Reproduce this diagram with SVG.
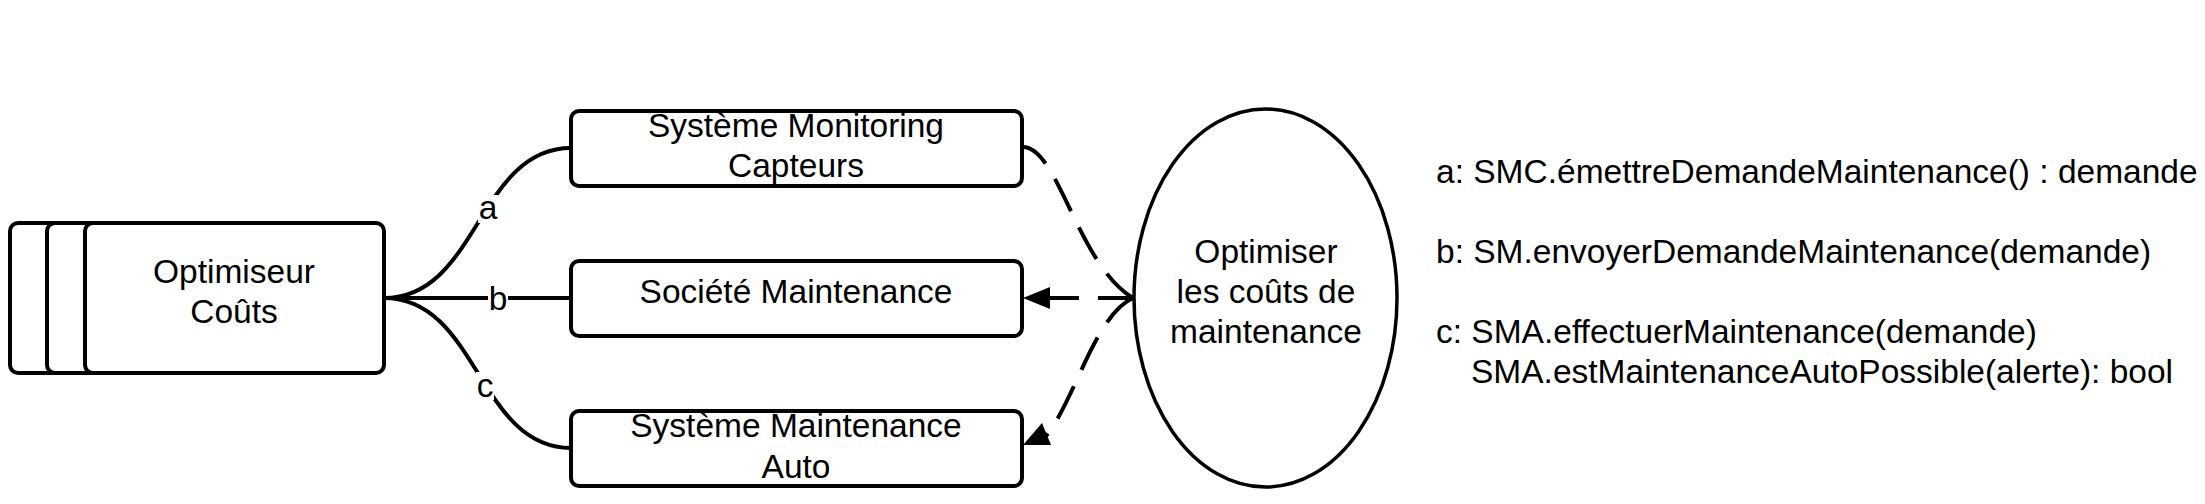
<svg xmlns="http://www.w3.org/2000/svg" width="2205" height="504" viewBox="0 0 2205 504">
<style>
.box{fill:#fff;stroke:#000;stroke-width:4}
.t{font-family:"Liberation Sans",Arial,sans-serif;font-size:33.5px;fill:#000}
.m{text-anchor:middle}
.ln{fill:none;stroke:#000;stroke-width:4}
.dash{fill:none;stroke:#000;stroke-width:4;stroke-dasharray:36 18}
.bg{fill:#fff;stroke:none}
</style>
<rect width="2205" height="504" fill="#fff"/>
<g id="optimiseur">
<rect class="box" x="10" y="223" width="300" height="150" rx="8"/>
<rect class="box" x="47" y="223" width="300" height="150" rx="8"/>
<rect class="box" x="85" y="223" width="299" height="150" rx="8"/>
<text class="t m" x="234" y="283">Optimiseur</text>
<text class="t m" x="234" y="323">Coûts</text>
</g>
<g id="smc">
<rect class="box" x="571" y="111" width="451" height="75" rx="8"/>
<text class="t m" x="796" y="137">Système Monitoring</text>
<text class="t m" x="796" y="177">Capteurs</text>
</g>
<g id="sm">
<rect class="box" x="571" y="261" width="451" height="75" rx="8"/>
<text class="t m" x="796" y="303">Société Maintenance</text>
</g>
<g id="sma">
<rect class="box" x="571" y="411" width="451" height="75" rx="8"/>
<text class="t m" x="796" y="437">Système Maintenance</text>
<text class="t m" x="796" y="478">Auto</text>
</g>
<g id="usecase">
<ellipse cx="1265.5" cy="298" rx="131.5" ry="189" fill="#fff" stroke="#000" stroke-width="3.5"/>
<text class="t m" x="1266" y="263">Optimiser</text>
<text class="t m" x="1266" y="303">les coûts de</text>
<text class="t m" x="1266" y="343">maintenance</text>
</g>
<g id="connectors">
<path class="ln" d="M384,298 C478,298 478,148 571,148"/>
<path class="ln" d="M384,298 L571,298"/>
<path class="ln" d="M384,298 C478,298 478,448 571,448"/>
<rect class="bg" x="478" y="195" width="20" height="28"/>
<rect class="bg" x="488" y="283" width="20" height="30"/>
<rect class="bg" x="476" y="372" width="18" height="28"/>
<text class="t m" x="488" y="219">a</text>
<text class="t m" x="498" y="310">b</text>
<text class="t m" x="485" y="397">c</text>
<path class="dash" d="M1133,298 C1078,265 1058,147 1023,147"/>
<path class="dash" style="stroke-dasharray:35 19" d="M1133,298 L1050,298"/>
<polygon points="1023,298 1050,287 1050,309" fill="#000"/>
<path class="dash" d="M1133,298 C1095,315 1075,400 1046,436"/>
<polygon points="1023,445 1042,423 1051,445" fill="#000"/>
</g>
<g id="legend">
<text class="t" x="1436" y="183">a: SMC.émettreDemandeMaintenance() : demande</text>
<text class="t" x="1436" y="263">b: SM.envoyerDemandeMaintenance(demande)</text>
<text class="t" x="1436" y="343">c: SMA.effectuerMaintenance(demande)</text>
<text class="t" x="1471" y="383">SMA.estMaintenanceAutoPossible(alerte): bool</text>
</g>
</svg>
